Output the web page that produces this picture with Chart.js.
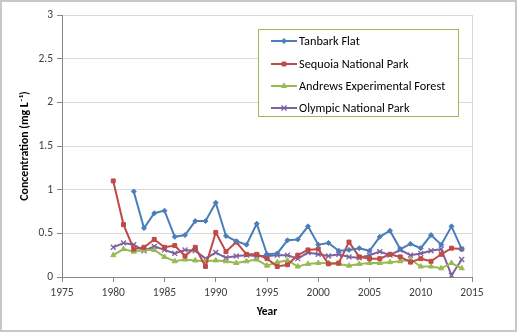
<!DOCTYPE html>
<html>
<head>
<meta charset="utf-8">
<script src="https://cdn.jsdelivr.net/npm/chart.js@4"></script>
<style>
  html, body { margin: 0; padding: 0; background: #fff; }
  canvas { display: block; }
</style>
</head>
<body>
<canvas id="chart" width="520" height="336"></canvas>
<script>
// values
const years = [1980, 1981, 1982, 1983, 1984, 1985, 1986, 1987, 1988, 1989,
               1990, 1991, 1992, 1993, 1994, 1995, 1996, 1997, 1998, 1999,
               2000, 2001, 2002, 2003, 2004, 2005, 2006, 2007, 2008, 2009,
               2010, 2011, 2012, 2013, 2014];
const tanbark = [null, null, 0.98, 0.56, 0.73, 0.76, 0.46, 0.48, 0.64, 0.64,
                 0.85, 0.47, 0.41, 0.37, 0.61, 0.26, 0.27, 0.42, 0.43, 0.58,
                 0.37, 0.39, 0.30, 0.31, 0.33, 0.30, 0.46, 0.53, 0.32, 0.38,
                 0.33, 0.48, 0.37, 0.58, 0.32];
const sequoia = [1.10, 0.60, 0.32, 0.34, 0.43, 0.34, 0.36, 0.24, 0.34, 0.12,
                 0.51, 0.29, 0.40, 0.26, 0.26, 0.21, 0.12, 0.14, 0.25, 0.31,
                 0.32, 0.15, 0.16, 0.40, 0.23, 0.21, 0.21, 0.26, 0.23, 0.17,
                 0.21, 0.18, 0.26, 0.33, 0.32];
const andrews = [0.25, 0.32, 0.29, 0.31, 0.31, 0.23, 0.18, 0.20, 0.19, 0.18,
                 0.19, 0.18, 0.16, 0.18, 0.20, 0.13, 0.17, 0.19, 0.12, 0.15,
                 0.16, 0.16, 0.15, 0.13, 0.15, 0.16, 0.16, 0.17, 0.18, 0.20,
                 0.12, 0.12, 0.10, 0.16, 0.10];
const olympic = [0.34, 0.39, 0.37, 0.30, 0.35, 0.31, 0.27, 0.31, 0.30, 0.21,
                 0.28, 0.22, 0.24, 0.25, 0.24, 0.24, 0.25, 0.25, 0.21, 0.28,
                 0.26, 0.24, 0.26, 0.23, 0.22, 0.25, 0.29, 0.25, 0.31, 0.25,
                 0.27, 0.30, 0.32, 0.02, 0.20];
const seriesNames = ['Tanbark Flat', 'Sequoia National Park', 'Andrews Experimental Forest', 'Olympic National Park'];
const xTicks = [1975, 1980, 1985, 1990, 1995, 2000, 2005, 2010, 2015];
const yTicks = [0, 0.5, 1, 1.5, 2, 2.5, 3];

const pts = (vals) => years.map((y, i) => ({ x: y, y: vals[i] }));

Chart.defaults.font.family = 'Carlito, Lato, sans-serif';
Chart.defaults.font.size = 11.5;
Chart.defaults.color = '#404040';

function series(label, vals, color, style, radius) {
  return {
    label, data: pts(vals),
    borderColor: color, backgroundColor: color,
    borderWidth: 2, pointStyle: style, pointRadius: radius,
    pointBorderWidth: style === 'crossRot' ? 1.3 : 1,
    spanGaps: false, tension: 0
  };
}

// plot outline, outer frame and boxed legend
const decor = {
  id: 'decor',
  beforeDatasetsDraw(chart) {
    const { ctx, chartArea: a } = chart;
    ctx.save();
    ctx.strokeStyle = '#d9d9d9';
    ctx.lineWidth = 1;
    ctx.beginPath();
    ctx.moveTo(Math.round(a.right) + 0.5, a.top);
    ctx.lineTo(Math.round(a.right) + 0.5, a.bottom);
    ctx.stroke();
    ctx.restore();
  },
  afterDraw(chart) {
    const ctx = chart.ctx;
    ctx.save();
    ctx.strokeStyle = '#c8c8c8';
    ctx.lineWidth = 2;
    ctx.strokeRect(1, 1, 515, 330);

    // legend box
    const bx = 258.5, by = 29.5, bw = 200, bh = 87;
    ctx.fillStyle = '#fff';
    ctx.fillRect(bx, by, bw, bh);
    ctx.strokeStyle = '#9bbb59';
    ctx.lineWidth = 1;
    ctx.strokeRect(bx, by, bw, bh);
    const rows = [41, 64, 86, 108];
    chart.data.datasets.forEach((ds, i) => {
      const y = rows[i];
      ctx.strokeStyle = ds.borderColor;
      ctx.fillStyle = ds.backgroundColor;
      ctx.lineWidth = 2;
      ctx.beginPath();
      ctx.moveTo(271, y);
      ctx.lineTo(297, y);
      ctx.stroke();
      ctx.lineWidth = ds.pointBorderWidth;
      Chart.helpers.drawPoint(ctx, { pointStyle: ds.pointStyle, radius: ds.pointRadius, rotation: 0, borderWidth: ds.pointBorderWidth }, 284, y);
      ctx.fillStyle = '#000';
      ctx.font = '12.3px Carlito, Lato, sans-serif';
      ctx.textBaseline = 'middle';
      ctx.textAlign = 'left';
      ctx.fillText(ds.label, 299, y + 0.5);
    });
    ctx.restore();
  }
};

new Chart(document.getElementById('chart'), {
  type: 'line',
  data: {
    datasets: [
      series(seriesNames[0], tanbark, '#4a7ebb', 'rectRot', 2.5),
      series(seriesNames[1], sequoia, '#be4b48', 'rect', 2.8),
      series(seriesNames[2], andrews, '#98b954', 'triangle', 3),
      series(seriesNames[3], olympic, '#7d60a0', 'crossRot', 3.5)
    ]
  },
  options: {
    responsive: false,
    animation: false,
    layout: { padding: { left: 0, top: 15, right: 48, bottom: 0 } },
    plugins: { legend: { display: false }, tooltip: { enabled: false } },
    scales: {
      x: {
        type: 'linear', min: 1975, max: 2015,
        afterBuildTicks: (s) => { s.ticks = xTicks.map(v => ({ value: v })); },
        afterFit: (s) => { s.height = 59; },
        ticks: { padding: 4, callback: (v) => String(v), maxRotation: 0 },
        grid: { display: true, drawOnChartArea: false, tickLength: 5, color: '#868686' },
        border: { color: '#868686' },
        title: { display: true, text: 'Year', color: '#000', font: { weight: 'bold', size: 11.5 }, padding: { top: 0, bottom: 17 } }
      },
      y: {
        min: 0, max: 3,
        afterBuildTicks: (s) => { s.ticks = yTicks.map(v => ({ value: v })); },
        afterFit: (s) => { s.width = 62; },
        ticks: { padding: 4, callback: (v) => String(v) },
        grid: { color: '#d9d9d9', tickLength: 5, tickColor: '#868686' },
        border: { color: '#868686' },
        title: { display: true, text: 'Concentration (mg L\u207B\u00B9)', color: '#000', font: { weight: 'bold', size: 11.8 }, padding: { top: 18, bottom: 0 } }
      }
    }
  },
  plugins: [decor]
});
</script>
</body>
</html>
